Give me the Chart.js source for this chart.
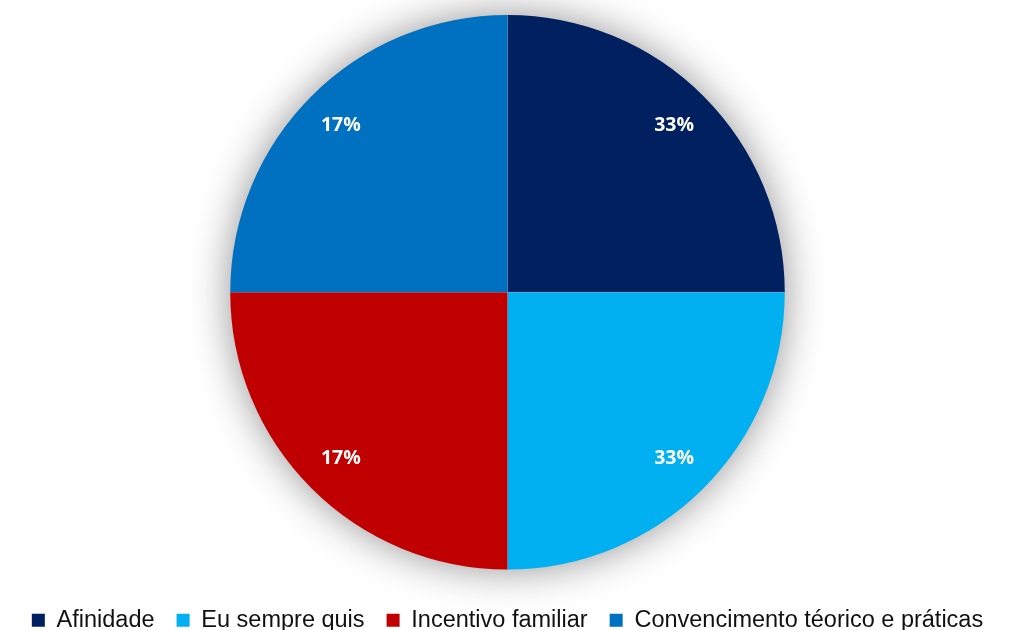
<!DOCTYPE html>
<html>
<head>
<meta charset="utf-8">
<script src="https://cdn.jsdelivr.net/npm/chart.js@4.4.0/dist/chart.umd.min.js"></script>
<style>
  html, body { margin: 0; padding: 0; background: #fff; }
  #wrap { width: 1015px; height: 630px; }
</style>
</head>
<body>
<div id="wrap"><canvas id="myChart" width="1015" height="630"></canvas></div>
<script>
// categorias e valores (fatias iguais no original)
const categories = ['Afinidade', 'Eu sempre quis', 'Incentivo familiar', 'Convencimento téorico e práticas'];
const values = [1, 1, 1, 1];
const percentLabels = ['33%', '33%', '17%', '17%'];
const colors = ['#002060', '#00B0F0', '#C00000', '#0070C0'];

// sombra suave em volta da pizza
const shadowPlugin = {
    id: 'pieShadow',
    beforeDatasetsDraw(chart) {
        const arc = chart.getDatasetMeta(0).data[0];
        if (!arc) return;
        const ctx = chart.ctx;
        ctx.save();
        ctx.shadowColor = 'rgba(0,0,0,0.45)';
        ctx.shadowBlur = 42;
        ctx.fillStyle = '#fff';
        ctx.beginPath();
        ctx.arc(arc.x, arc.y, arc.outerRadius - 1, 0, Math.PI * 2);
        ctx.fill();
        ctx.restore();
    }
};

// rótulos de porcentagem dentro das fatias
const labelPlugin = {
    id: 'sliceLabels',
    afterDatasetsDraw(chart) {
        const ctx = chart.ctx;
        ctx.save();
        ctx.fillStyle = '#fff';
        ctx.font = 'bold 19.5px "Open Sans"';
        ctx.textAlign = 'center';
        ctx.textBaseline = 'middle';
        chart.getDatasetMeta(0).data.forEach((arc, i) => {
            const mid = (arc.startAngle + arc.endAngle) / 2;
            const r = arc.outerRadius * 0.85;
            ctx.fillText(percentLabels[i], arc.x + Math.cos(mid) * r, arc.y + Math.sin(mid) * r);
        });
        ctx.restore();
    }
};

// empurra a legenda para baixo sem mexer no tamanho da pizza
const legendShift = {
    id: 'legendShift',
    afterLayout(chart) {
        chart.legend.top += 17;
        chart.legend.bottom += 17;
    }
};

const ctx = document.getElementById('myChart').getContext('2d');
const myChart = new Chart(ctx, {
    type: 'pie',
    data: {
        labels: categories,
        datasets: [{
            data: values,
            backgroundColor: colors,
            borderWidth: 0
        }]
    },
    options: {
        responsive: false,
        animation: false,
        layout: { padding: { top: 15, bottom: 5 } },
        plugins: {
            tooltip: { enabled: false },
            legend: {
                position: 'bottom',
                labels: {
                    font: { family: '"Liberation Sans", Arial', size: 23.5 },
                    color: '#111',
                    boxWidth: 13,
                    boxHeight: 13,
                    padding: 22
                }
            }
        }
    },
    plugins: [shadowPlugin, labelPlugin, legendShift]
});
</script>
</body>
</html>
